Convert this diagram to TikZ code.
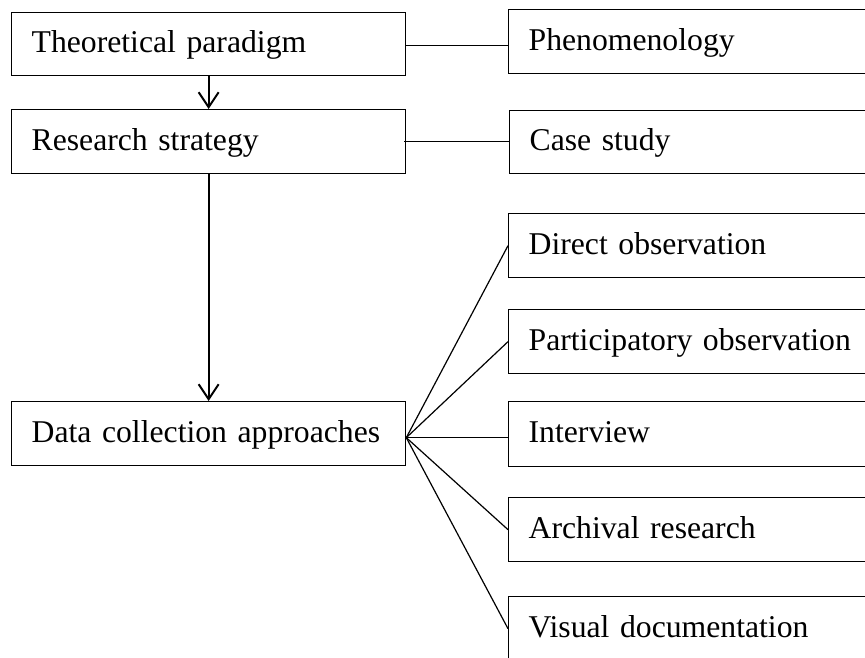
\documentclass[tikz,border=0pt]{standalone}
\usepackage{fontspec}
\setmainfont{Liberation Serif}
\usetikzlibrary{arrows.meta,calc}
\begin{document}
\begin{tikzpicture}[x=1pt,y=-1pt,
  box/.style={draw=black, line width=1.3pt, anchor=north west, inner xsep=20pt, inner ysep=0pt,
    align=left, font=\fontsize{31.7}{36}\selectfont, text height=23.5pt, text depth=6.5pt},
  lbox/.style={box, minimum width=394pt, text width=354pt, minimum height=63pt},
  rbox/.style={box, minimum width=400pt, text width=360pt, minimum height=64pt},
  conn/.style={draw=black, line width=1.2pt},
  flow/.style={draw=black, line width=2pt, -{Straight Barb[length=15pt,width=20pt,line width=2pt]}}]
\clip (0,0) rectangle (865,657);
\node[lbox] (tp) at (11,12) {Theoretical paradigm};
\node[lbox, minimum height=64pt] (rs) at (11,109) {Research strategy};
\node[lbox, minimum height=64pt] (dca) at (11,401) {Data collection approaches};
\node[rbox] (ph) at (508,9) {Phenomenology};
\node[rbox, minimum height=63pt] (cs) at (509,110) {Case study};
\node[rbox] (do) at (508,213) {Direct observation};
\node[rbox] (po) at (508,309) {Participatory observation};
\node[rbox, minimum height=65pt] (iv) at (508,401) {Interview};
\node[rbox] (ar) at (508,497) {Archival research};
\node[rbox] (vd) at (508,596) {Visual documentation};
\draw[conn] ($(tp.east)+(0,1.5)$) -- ($(tp.east -| ph.west)+(0,1.5)$);
\draw[conn] ($(rs.east)+(-2,0)$) -- (rs.east -| cs.west);
\draw[flow] (tp.south) -- (rs.north);
\draw[flow] (rs.south) -- (dca.north);
\coordinate (hub) at ($(dca.east)+(0,4)$);
\draw[conn] (hub) -- (do.west);
\draw[conn] (hub) -- (po.west);
\draw[conn] (hub) -- (hub -| iv.west);
\draw[conn] (hub) -- (ar.west);
\draw[conn] (hub) -- (vd.west);
\end{tikzpicture}
\end{document}
